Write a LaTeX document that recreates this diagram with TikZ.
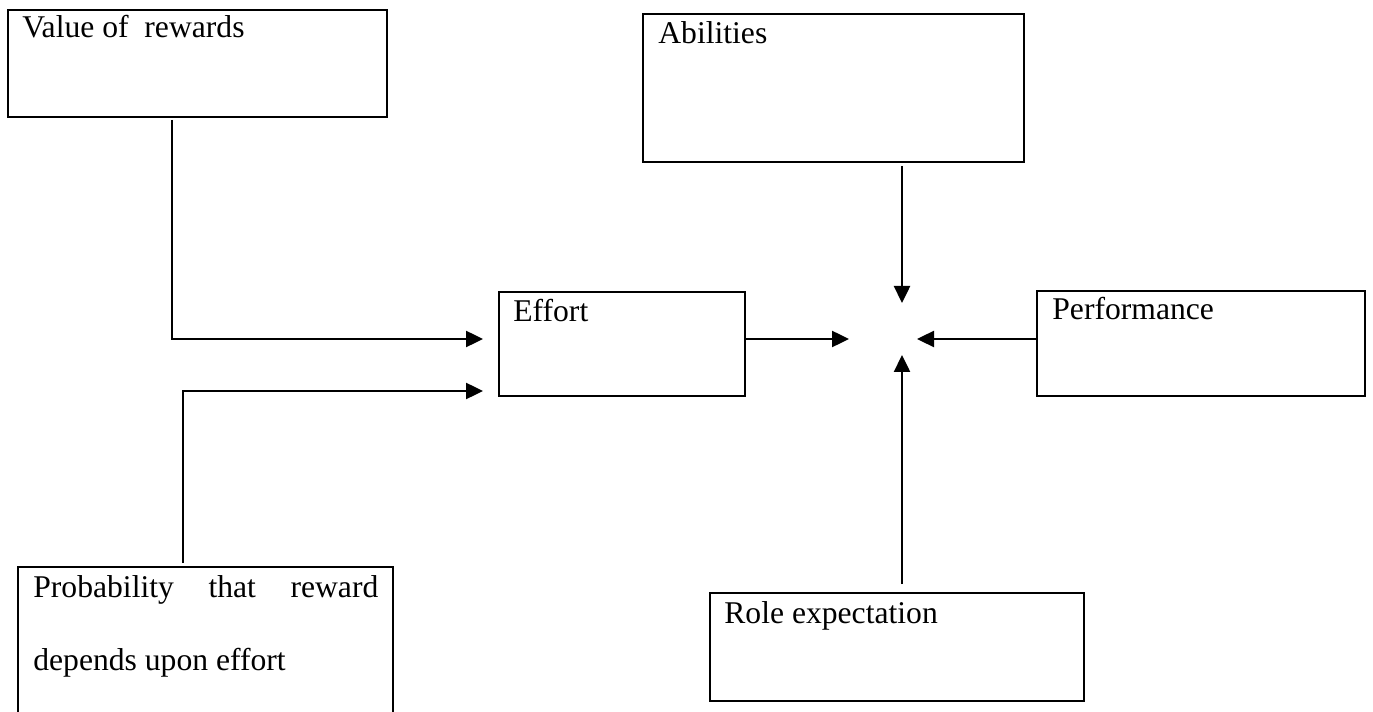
\documentclass[tikz,border=0pt]{standalone}
\usepackage{fontspec}
\setmainfont{Liberation Serif}
\usetikzlibrary{arrows.meta}

\begin{document}
\begin{tikzpicture}[
    box/.style={draw, line width=1.4pt, anchor=north west, inner sep=0pt, outer sep=0pt},
    lbl/.style={anchor=base west, inner sep=0pt, font=\fontsize{18}{41.4}\selectfont, align=left},
    arr/.style={line width=1.4pt, -{Triangle[length=0.34cm, width=0.32cm]}}
]

    \useasboundingbox (0,0) rectangle (27.46,-14.24);

    % Boxes
    \node[box, minimum width=7.58cm, minimum height=2.14cm] (value)       at (0.16,-0.20)  {};
    \node[box, minimum width=7.62cm, minimum height=2.96cm] (abilities)   at (12.86,-0.28) {};
    \node[box, minimum width=4.92cm, minimum height=2.08cm] (effort)      at (9.98,-5.84)  {};
    \node[box, minimum width=6.56cm, minimum height=2.10cm] (performance) at (20.74,-5.82) {};
    \node[box, minimum width=7.48cm, minimum height=2.16cm] (role)        at (14.20,-11.86) {};
    \node[box, minimum width=7.50cm, minimum height=3.20cm] (prob)        at (0.36,-11.34) {};

    % Box texts
    \node[lbl] (valuetext)       at ([shift={(0.28,-0.56)}]value.north west)       {Value of~ rewards};
    \node[lbl] (abilitiestext)   at ([shift={(0.30,-0.60)}]abilities.north west)   {Abilities};
    \node[lbl] (efforttext)      at ([shift={(0.28,-0.60)}]effort.north west)      {Effort};
    \node[lbl] (performancetext) at ([shift={(0.30,-0.58)}]performance.north west) {Performance};
    \node[lbl] (roletext)        at ([shift={(0.28,-0.60)}]role.north west)        {Role expectation};
    % base of a two line node is the second line
    \node[lbl] (probtext)        at ([shift={(0.30,-2.06)}]prob.north west)
        {\makebox[6.9cm][s]{Probability that reward}\\depends upon effort};

    % Point where the arrows meet
    \coordinate (meet) at (18.04,-6.78);

    % Into effort
    \draw[arr, shorten <=0.06cm, shorten >=0.32cm] ([xshift=3.28cm]value.south west) |- (effort.west |- meet);
    \draw[arr, shorten <=0.08cm, shorten >=0.32cm] ([xshift=3.30cm]prob.north west) |- ([yshift=0.1cm]effort.south west);

    % Into the meeting point
    \draw[arr, shorten >=1.06cm] (effort.east |- meet) -- (meet);
    \draw[arr, shorten <=0.08cm, shorten >=0.72cm] (meet |- abilities.south) -- (meet);
    \draw[arr, shorten >=0.30cm] (meet -| performance.west) -- (meet);
    \draw[arr, shorten <=0.18cm, shorten >=0.32cm] (meet |- role.north) -- (meet);

\end{tikzpicture}
\end{document}
